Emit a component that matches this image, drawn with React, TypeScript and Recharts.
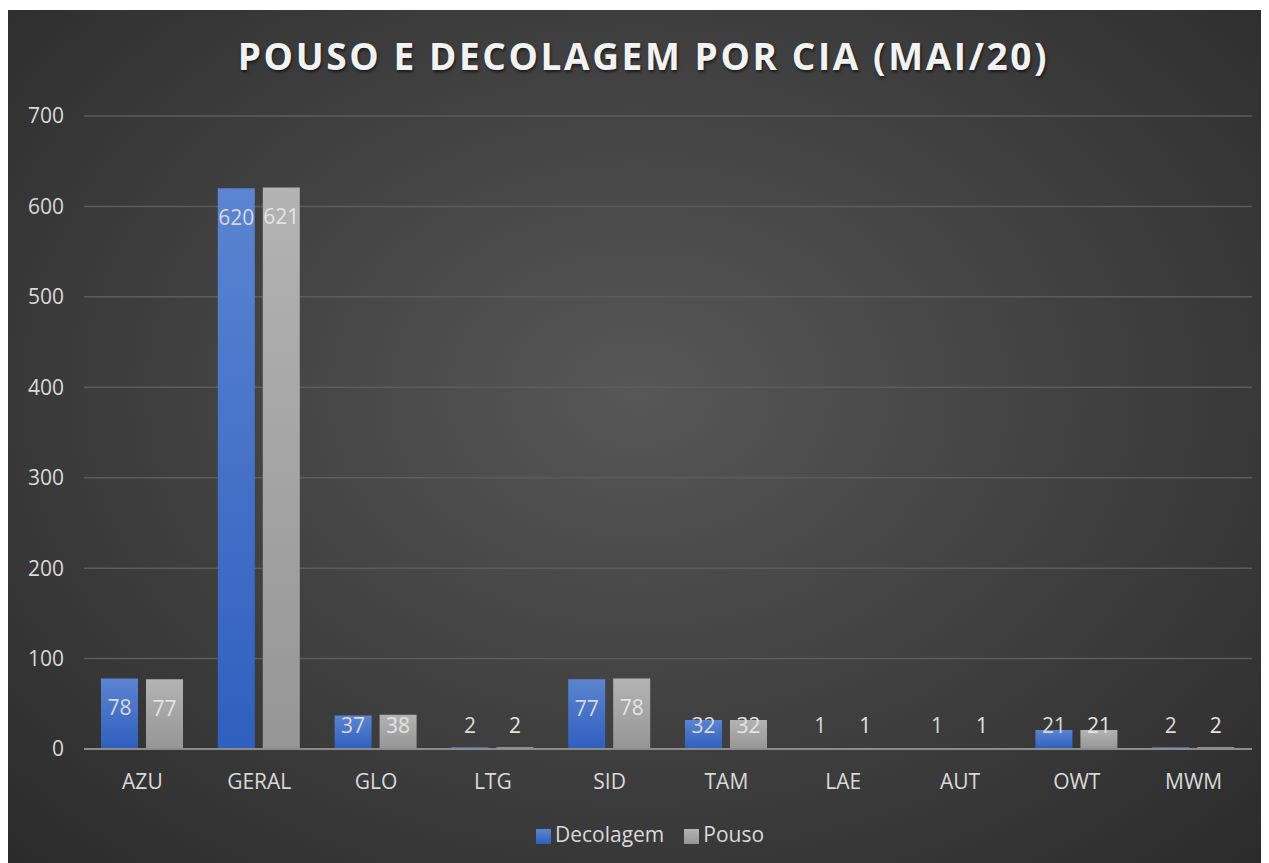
import { BarChart, Bar, XAxis, YAxis, CartesianGrid, Legend, LabelList, ReferenceLine } from "recharts";

const companies = ["AZU", "GERAL", "GLO", "LTG", "SID", "TAM", "LAE", "AUT", "OWT", "MWM"];
const decolagem = [78, 620, 37, 2, 77, 32, 1, 1, 21, 2];
const pouso = [77, 621, 38, 2, 78, 32, 1, 1, 21, 2];
const yTicks = [0, 100, 200, 300, 400, 500, 600, 700];

const data = companies.map((cia, i) => ({ cia, decolagem: decolagem[i], pouso: pouso[i] }));

const FONT = "'Open Sans', sans-serif";
const TEXT = "#d9d9d9";

// Excel-like "inside end" labels, pushed above the bar when it is too short
function barLabel(fill: string) {
  return (props: any) => {
    const { x, y, width, height, value } = props;
    const base = y + height;
    const cy = Math.min(y + 29, base - 24);
    return (
      <text
        x={x + width / 2}
        y={cy}
        textAnchor="middle"
        dominantBaseline="central"
        fill={fill}
        fontSize={21}
        fontFamily={FONT}
      >
        {value}
      </text>
    );
  };
}

export default function App() {
  return (
    <div
      style={{
        position: "relative",
        width: 1261,
        height: 853,
        marginTop: 2,
        background: "radial-gradient(ellipse at 50% 45%, #575757 0%, #454545 40%, #2b2b2b 100%)",
        fontFamily: FONT,
      }}
    >
      <div
        style={{
          position: "absolute",
          top: 20,
          left: 5,
          width: "100%",
          textAlign: "center",
          color: "#f2f2f2",
          fontSize: 37,
          fontWeight: 700,
          letterSpacing: 2.6,
          textShadow: "1px 2px 3px rgba(0,0,0,0.6)",
        }}
      >
        POUSO E DECOLAGEM POR CIA (MAI/20)
      </div>
      <BarChart
        width={1261}
        height={853}
        data={data}
        margin={{ top: 106, right: 17, left: 0, bottom: 15 }}
        barGap={8}
        style={{ position: "absolute", top: 0, left: 0 }}
      >
        <defs>
          <linearGradient id="blueGrad" x1="0" y1="0" x2="0" y2="1">
            <stop offset="0%" stopColor="#5b84d1" />
            <stop offset="100%" stopColor="#2f5fbf" />
          </linearGradient>
          <linearGradient id="grayGrad" x1="0" y1="0" x2="0" y2="1">
            <stop offset="0%" stopColor="#b3b3b3" />
            <stop offset="100%" stopColor="#969696" />
          </linearGradient>
        </defs>
        <CartesianGrid vertical={false} stroke="#5c5c5c" strokeWidth={1.5} />
        <XAxis
          dataKey="cia"
          axisLine={false}
          tickLine={false}
          tickMargin={19}
          height={71}
          tick={{ fill: TEXT, fontSize: 21, fontFamily: FONT }}
        />
        <YAxis
          domain={[0, 700]}
          ticks={yTicks}
          width={76}
          axisLine={false}
          tickLine={false}
          tickMargin={14}
          tick={{ fill: TEXT, fontSize: 21, fontFamily: FONT }}
        />
        <ReferenceLine y={0} stroke="#8c8c8c" strokeWidth={2} />
        <Legend
          verticalAlign="bottom"
          iconType="square"
          iconSize={15}
          wrapperStyle={{ left: 25, fontSize: 21, fontFamily: FONT, color: TEXT }}
          formatter={(value: string) => (
            <span style={{ color: TEXT, marginRight: value === "Decolagem" ? 10 : 0 }}>{value}</span>
          )}
        />
        <Bar dataKey="decolagem" name="Decolagem" fill="url(#blueGrad)" barSize={37} isAnimationActive={false}>
          <LabelList dataKey="decolagem" content={barLabel("#d9d9d9")} />
        </Bar>
        <Bar dataKey="pouso" name="Pouso" fill="url(#grayGrad)" barSize={37} isAnimationActive={false}>
          <LabelList dataKey="pouso" content={barLabel("#e4e4e4")} />
        </Bar>
      </BarChart>
    </div>
  );
}
